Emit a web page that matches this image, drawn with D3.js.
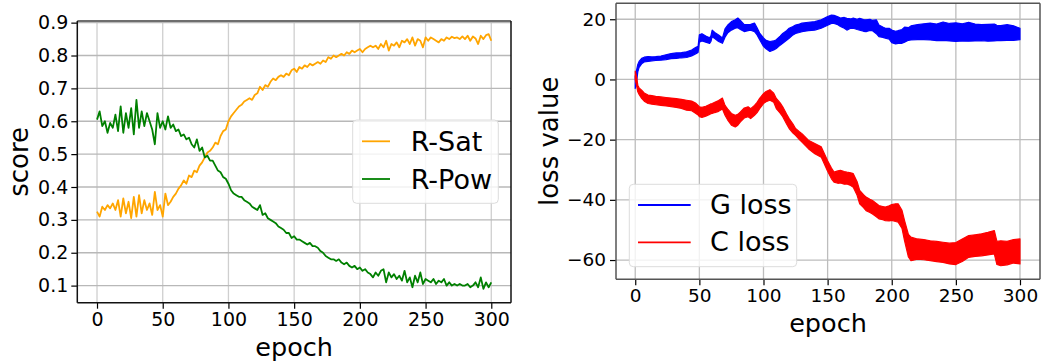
<!DOCTYPE html>
<html><head><meta charset="utf-8">
<script src="https://cdn.jsdelivr.net/npm/d3@7"></script>
<style>body{margin:0;background:#fff}svg{display:block}text{font-family:"DejaVu Sans",sans-serif;fill:#000}</style>
</head><body><svg id="c" width="1046" height="363"></svg>
<script>
// ---------- data ----------
const scoreEpochs = d3.range(0, 301, 2);
const rSat = [
0.325,0.31,0.34,0.33,0.345,0.335,0.35,0.33,0.36,0.31,
0.365,0.32,0.355,0.305,0.37,0.31,0.375,0.32,0.36,0.33,
0.35,0.315,0.385,0.33,0.345,0.31,0.38,0.345,0.355,0.37,
0.38,0.395,0.405,0.42,0.41,0.435,0.43,0.45,0.445,0.465,
0.475,0.49,0.505,0.51,0.52,0.535,0.53,0.555,0.57,0.575,
0.6,0.615,0.625,0.635,0.645,0.65,0.66,0.665,0.67,0.665,
0.68,0.685,0.705,0.695,0.71,0.705,0.72,0.73,0.725,0.735,
0.74,0.735,0.745,0.74,0.755,0.76,0.75,0.765,0.76,0.77,
0.765,0.775,0.77,0.775,0.78,0.775,0.785,0.78,0.795,0.79,
0.8,0.795,0.8,0.805,0.8,0.81,0.805,0.815,0.81,0.815,
0.82,0.81,0.82,0.825,0.83,0.825,0.83,0.82,0.835,0.825,
0.845,0.815,0.835,0.83,0.84,0.825,0.845,0.84,0.85,0.835,
0.855,0.83,0.85,0.845,0.825,0.855,0.845,0.855,0.85,0.845,
0.84,0.85,0.845,0.855,0.85,0.857,0.853,0.855,0.85,0.858,
0.85,0.86,0.845,0.858,0.852,0.835,0.86,0.85,0.862,0.865,
0.845];
const rPow = [
0.605,0.63,0.585,0.6,0.565,0.595,0.58,0.62,0.57,0.645,
0.565,0.625,0.58,0.64,0.56,0.665,0.58,0.63,0.585,0.625,
0.6,0.575,0.53,0.625,0.58,0.6,0.575,0.615,0.58,0.59,
0.57,0.575,0.555,0.56,0.545,0.55,0.53,0.52,0.545,0.51,
0.52,0.49,0.495,0.48,0.48,0.465,0.45,0.445,0.43,0.425,
0.41,0.39,0.38,0.375,0.37,0.37,0.36,0.355,0.35,0.34,
0.335,0.33,0.345,0.315,0.32,0.305,0.3,0.295,0.29,0.28,
0.275,0.27,0.26,0.26,0.245,0.25,0.24,0.24,0.235,0.23,
0.225,0.23,0.22,0.22,0.215,0.205,0.2,0.19,0.185,0.18,
0.18,0.175,0.18,0.17,0.165,0.17,0.16,0.155,0.16,0.15,
0.155,0.145,0.15,0.14,0.135,0.125,0.14,0.13,0.145,0.15,
0.11,0.14,0.125,0.135,0.12,0.13,0.115,0.145,0.11,0.125,
0.095,0.13,0.11,0.14,0.105,0.12,0.115,0.11,0.12,0.105,
0.115,0.11,0.12,0.1,0.11,0.1,0.105,0.1,0.105,0.1,
0.1,0.105,0.095,0.1,0.11,0.095,0.125,0.09,0.11,0.095,
0.11];

const lossEpochs = [0,1,2,3,5,7,10,13,16,20,24,28,32,36,40,44,47,49,50,52,
55,58,59,60,62,65,68,70,72,75,78,80,82,85,88,90,93,95,97,100,
102,105,108,110,113,115,118,120,123,125,128,130,135,140,145,150,153,155,158,160,
163,165,168,170,173,175,178,180,183,185,188,190,193,195,198,200,203,205,208,210,
213,215,220,225,230,235,240,245,250,255,260,265,270,275,280,282,285,290,295,300];
const gLow = [-3,-1,2.5,4,5.2,5.8,6,6.2,6.3,6.4,
6.6,6.9,7,7.2,7.3,7.8,8.5,9,12.4,12.8,
12.4,12,12.6,14.2,13.6,12.6,12,14,15.4,16.4,
17,17.2,16.6,15.9,16.2,16.4,15.9,14.8,13.2,11,
10.2,9.3,9.8,10.3,11.4,12,13,13.7,14.8,15.3,
15.6,15.9,16.2,16.4,17,18,18.6,18.6,18.2,17.6,
17,16.4,17,17,16.6,16.4,16,15.9,16.3,16.2,
15.2,14.2,14,13.7,13.4,12.2,11.8,12,12,12.4,
13,13.1,13.2,13.2,13.1,12.9,13,12.8,12.6,12.8,
12.7,12.8,12.9,12.7,12.8,12.9,12.9,13,13,13.2];
const gHigh = [1,3,5,6,7,7.4,7.6,7.5,7.6,7.8,
8.2,8.6,8.8,8.9,9.2,9.8,10.6,11,14.8,15.2,
14.4,13.8,14.5,16.4,15.6,14.8,13.8,16.8,18,19.2,
19.8,20.4,19.6,18.2,18.2,18.3,18.7,17.2,15.4,13.8,
13,12.6,12.8,13.2,14.4,15.3,16.2,17,17.6,18.1,
18.4,18.7,19,19.2,19.8,20.9,21.4,21.3,20.8,20.4,
20.6,20.3,20.1,20.4,20,20.3,19.9,19.8,20,19.6,
19.8,18.1,17.4,17,17,16.4,16,16.2,16.6,17.4,
17.2,17.8,18.2,18.5,18.7,18.4,19.1,18.6,18.8,18.5,
19,18.4,18.2,18.3,18.4,18,17.9,18.2,17.8,17];
const cLow = [0,-2,-4.1,-5,-6.3,-7.2,-8,-8.2,-8.4,-8.6,
-8.8,-9,-9.3,-9.6,-10.2,-10.4,-11.2,-11.8,-12.4,-12.6,
-12.2,-11.6,-11.4,-11.3,-11,-10.6,-9.8,-11.9,-13.4,-15.2,
-15.8,-15.2,-14.1,-12.8,-12.4,-13,-11.9,-11,-9.7,-8,
-7.4,-6.9,-7.6,-9.7,-11.2,-12.4,-14.8,-16.3,-17.8,-18.6,
-20,-20.8,-23,-24.7,-25.8,-30.5,-33,-34.1,-34.5,-34.4,
-34.8,-34.7,-35.2,-35.8,-38.5,-41.3,-42.6,-43.6,-44.2,-44.7,
-45.6,-46.3,-46.6,-46.9,-47,-46.8,-47.2,-47.4,-49.5,-53.6,
-59,-60.2,-59.7,-59.9,-60.2,-60.5,-60.8,-61.3,-61.5,-60.5,
-59.1,-58.8,-58.6,-58.3,-58,-61.5,-61.9,-61.6,-61,-61.3];
const cHigh = [2.8,1,-1.9,-2.8,-3.6,-4.5,-5.2,-5.4,-5.6,-5.8,
-6,-6.2,-6.4,-6.6,-6.9,-7.2,-7.8,-8.6,-9.1,-9.3,
-8.9,-8.3,-8.1,-8,-7.6,-7,-6.2,-8.6,-9.8,-11.3,
-11.9,-11.6,-10.8,-9.5,-9.1,-9.7,-8.6,-7.6,-6.3,-4.7,
-4,-3.4,-4.6,-6.3,-7.8,-9.1,-11.5,-13,-14.8,-16.3,
-17.4,-18,-20.2,-21.3,-22.4,-27,-29.4,-30.8,-30.4,-30.2,
-30.6,-30.8,-31,-31.3,-34,-36.9,-38.3,-39.1,-39.8,-40.2,
-41.2,-41.9,-42.2,-42.4,-42,-41.6,-41.3,-41.3,-43.5,-46.9,
-51.5,-52.4,-53,-53.2,-53.6,-53.8,-54.1,-54.4,-54.2,-53,
-51.9,-51.6,-51.3,-50.8,-50.2,-53.8,-53.6,-53.8,-53.2,-53];

const epochTicks = [0,50,100,150,200,250,300];
const scoreTicks = [0.1,0.2,0.3,0.4,0.5,0.6,0.7,0.8,0.9];
const lossTicks = [-60,-40,-20,0,20];
const scoreSeries = [{name:"R-Sat", values:rSat, color:"#ffa500"},{name:"R-Pow", values:rPow, color:"#008000"}];
const lossSeries = [{name:"G loss", lo:gLow, hi:gHigh, color:"#0000ff"},{name:"C loss", lo:cLow, hi:cHigh, color:"#ff0000"}];

const svg = d3.select("#c");

function frame(x, y, xt, yt, yfmt, fs, gridV, gridH, yPad) {
  const [x0,x1] = x.range(), [y1,y0] = y.range();
  const g = svg.append("g");
  g.selectAll(".gv").data(xt).join("line").attr("x1",d=>x(d)).attr("x2",d=>x(d)).attr("y1",y0).attr("y2",y1)
    .attr("stroke",gridV).attr("stroke-width",1.3);
  g.selectAll(".gh").data(yt).join("line").attr("y1",d=>y(d)).attr("y2",d=>y(d)).attr("x1",x0).attr("x2",x1)
    .attr("stroke",gridH).attr("stroke-width",1.3);
  const ax = svg.append("g").attr("transform",`translate(0,${y1})`)
    .call(d3.axisBottom(x).tickValues(xt).tickSize(6).tickPadding(4));
  const ay = svg.append("g").attr("transform",`translate(${x0},0)`)
    .call(d3.axisLeft(y).tickValues(yt).tickSize(6).tickPadding(yPad).tickFormat(yfmt));
  [ax,ay].forEach(a=>{
    a.select(".domain").remove();
    a.selectAll("line").attr("stroke","#000").attr("stroke-width",1.2);
    a.selectAll("text").attr("font-size",fs).attr("font-family","DejaVu Sans").attr("fill","#000");
  });
  return g;
}
function spines(x, y, cols, topW) {
  const [x0,x1] = x.range(), [y1,y0] = y.range();
  const s = svg.append("g").attr("fill","none").attr("stroke-width",1.5);
  s.append("line").attr("x1",x0).attr("x2",x1).attr("y1",y0).attr("y2",y0).attr("stroke",cols[0]).attr("stroke-width",topW);
  s.append("line").attr("x1",x1).attr("x2",x1).attr("y1",y0).attr("y2",y1).attr("stroke",cols[1]);
  s.append("line").attr("x1",x0).attr("x2",x1).attr("y1",y1).attr("y2",y1).attr("stroke",cols[2]);
  s.append("line").attr("x1",x0).attr("x2",x0).attr("y1",y0).attr("y2",y1).attr("stroke",cols[3]);
}

// ---------- left chart ----------
const xL = d3.scaleLinear([-15,315],[77.3,511]);
const yL = d3.scaleLinear([0.048,0.905],[302.7,21]);
frame(xL, yL, epochTicks, scoreTicks, d3.format(".1f"), "19px", "#cfcfcf", "#b8b8b8", 3);
const lineL = d3.line().x((d,i)=>xL(scoreEpochs[i])).y(d=>yL(d));
svg.append("g").selectAll("path").data(scoreSeries).join("path")
  .attr("d",d=>lineL(d.values)).attr("fill","none").attr("stroke",d=>d.color)
  .attr("stroke-width",1.8).attr("stroke-linejoin","round");
spines(xL, yL, ["#6e6e6e","#111","#111","#111"], 2);
svg.append("text").attr("x",(77.3+511)/2).attr("y",356).attr("text-anchor","middle").attr("font-size","25.5px").text("epoch");
svg.append("text").attr("transform",`translate(28,${(21+302.7)/2}) rotate(-90)`).attr("text-anchor","middle").attr("font-size","26px").text("score");

// legend left
const lgL = svg.append("g");
lgL.append("rect").attr("x",352.7).attr("y",120).attr("width",145.6).attr("height",83.3).attr("rx",4)
  .attr("fill","#fff").attr("fill-opacity",0.8).attr("stroke","#dcdcdc").attr("stroke-width",1);
scoreSeries.forEach((s,i)=>{
  const cy = 141.3 + i*37.7;
  lgL.append("line").attr("x1",362).attr("x2",390).attr("y1",cy).attr("y2",cy).attr("stroke",s.color).attr("stroke-width",1.8);
  lgL.append("text").attr("x",410.7).attr("y",cy+9.5).attr("font-size","27px").text(s.name);
});

// ---------- right chart ----------
const xR = d3.scaleLinear([-15,315.6],[616,1040]);
const yR = d3.scaleLinear([-66.4,25.3],[279.3,3.3]);
frame(xR, yR, epochTicks, lossTicks, d=>d3.format("d")(d).replace("-","\u2212"), "18.5px", "#bdbdbd", "#bdbdbd", 4);
const areaR = d3.area().x((d,i)=>xR(lossEpochs[i])).y0(d=>yR(d[0])).y1(d=>yR(d[1]));
svg.append("g").selectAll("path").data(lossSeries).join("path")
  .attr("d",s=>areaR(s.lo.map((v,i)=>[v,s.hi[i]])))
  .attr("fill",s=>s.color).attr("stroke",s=>s.color).attr("stroke-width",1.2).attr("stroke-linejoin","round");
spines(xR, yR, ["#555","#555","#555","#555"], 1.5);
svg.append("text").attr("x",(616+1040)/2).attr("y",332).attr("text-anchor","middle").attr("font-size","25.5px").text("epoch");
svg.append("text").attr("transform",`translate(557.5,${(3.3+279.3)/2}) rotate(-90)`).attr("text-anchor","middle").attr("font-size","26px").text("loss value");

// legend right
const lgR = svg.append("g");
lgR.append("rect").attr("x",629.3).attr("y",184.3).attr("width",167.4).attr("height",82.4).attr("rx",4)
  .attr("fill","#fff").attr("fill-opacity",0.8).attr("stroke","#dcdcdc").attr("stroke-width",1);
lossSeries.forEach((s,i)=>{
  const cy = 205 + i*37.3;
  lgR.append("line").attr("x1",638).attr("x2",690.7).attr("y1",cy).attr("y2",cy).attr("stroke",s.color).attr("stroke-width",1.8);
  lgR.append("text").attr("x",710).attr("y",cy+9).attr("font-size","27px").text(s.name);
});
</script></body></html>
